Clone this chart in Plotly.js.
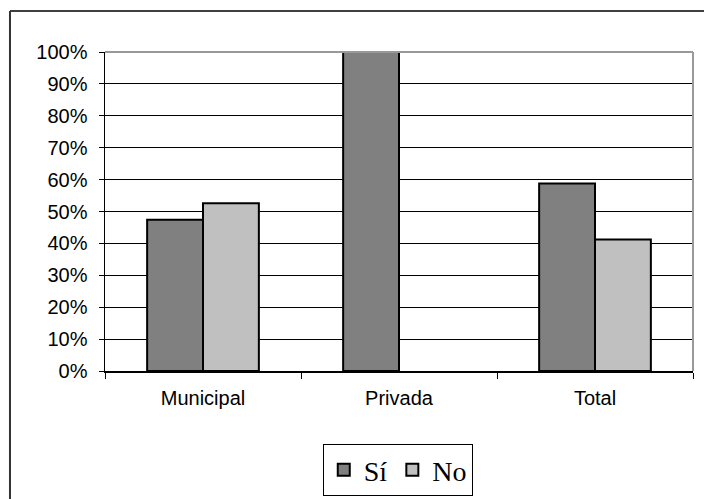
<!DOCTYPE html>
<html>
<head>
<meta charset="utf-8">
<script src="https://cdn.plot.ly/plotly-3.0.1.min.js"></script>
<style>html,body{margin:0;padding:0;background:#fff;}#chart{width:704px;height:499px;}</style>
</head>
<body>
<div id="chart"></div>
<script>
var categories = ["Municipal", "Privada", "Total"];
var seriesNames = ["Sí", "No"];
var siValues = [0.474, 1.0, 0.588];
var noValues = [0.526, 0.0, 0.412];

function outlineWidths(vals) { return vals.map(function (v) { return v > 0 ? 2 : 0; }); }

var traces = [
  {type: "bar", name: seriesNames[0], x: categories, y: siValues,
   marker: {color: "#808080", line: {color: "#000000", width: outlineWidths(siValues)}}, hoverinfo: "none"},
  {type: "bar", name: seriesNames[1], x: categories, y: noValues,
   marker: {color: "#C0C0C0", line: {color: "#000000", width: outlineWidths(noValues)}}, hoverinfo: "none"}
];

var layout = {
  width: 704, height: 499,
  margin: {l: 105, r: 11, t: 52, b: 128},
  paper_bgcolor: "#ffffff", plot_bgcolor: "#ffffff",
  barmode: "group", bargap: 0.43, bargroupgap: 0,
  font: {family: "Liberation Sans, Arial, sans-serif", size: 20, color: "#000"},
  xaxis: {type: "category", showline: true, linecolor: "#000", linewidth: 1.5,
          ticks: "outside", tickson: "boundaries", ticklen: 6, tickcolor: "#000", tickwidth: 1,
          ticklabelstandoff: 8, automargin: false,
          showgrid: false, zeroline: false, tickfont: {size: 20}},
  yaxis: {range: [0, 1], dtick: 0.1, tickformat: ".0%", showline: true, linecolor: "#000", linewidth: 1.5,
          ticks: "outside", ticklen: 5, tickcolor: "#000", tickwidth: 1,
          ticklabelstandoff: 7, automargin: false,
          showgrid: true, gridcolor: "#000", gridwidth: 1, zeroline: false, tickfont: {size: 20}},
  showlegend: true,
  legend: {orientation: "h", xref: "container", yref: "container",
           x: 0.565, xanchor: "center", y: 0.11, yanchor: "top",
           bordercolor: "#000", borderwidth: 1, bgcolor: "#fff",
           font: {family: "Liberation Serif, Times New Roman, serif", size: 28, color: "#000"},
           itemwidth: 30, tracegroupgap: 0},
  shapes: [
    {type: "line", xref: "paper", yref: "paper", x0: 0, x1: 1, y0: 1, y1: 1, line: {color: "#999", width: 2}},
    {type: "line", xref: "paper", yref: "paper", x0: 1, x1: 1, y0: 0, y1: 1, line: {color: "#999", width: 2}},
    {type: "line", xref: "paper", yref: "paper", x0: -0.1616, x1: 2, y0: 1.1285, y1: 1.1285, line: {color: "#000", width: 1.5}},
    {type: "line", xref: "paper", yref: "paper", x0: -0.1616, x1: -0.1616, y0: -2, y1: 1.1285, line: {color: "#333", width: 2}}
  ]
};

Plotly.newPlot("chart", traces, layout, {displayModeBar: false, staticPlot: true});
</script>
</body>
</html>
